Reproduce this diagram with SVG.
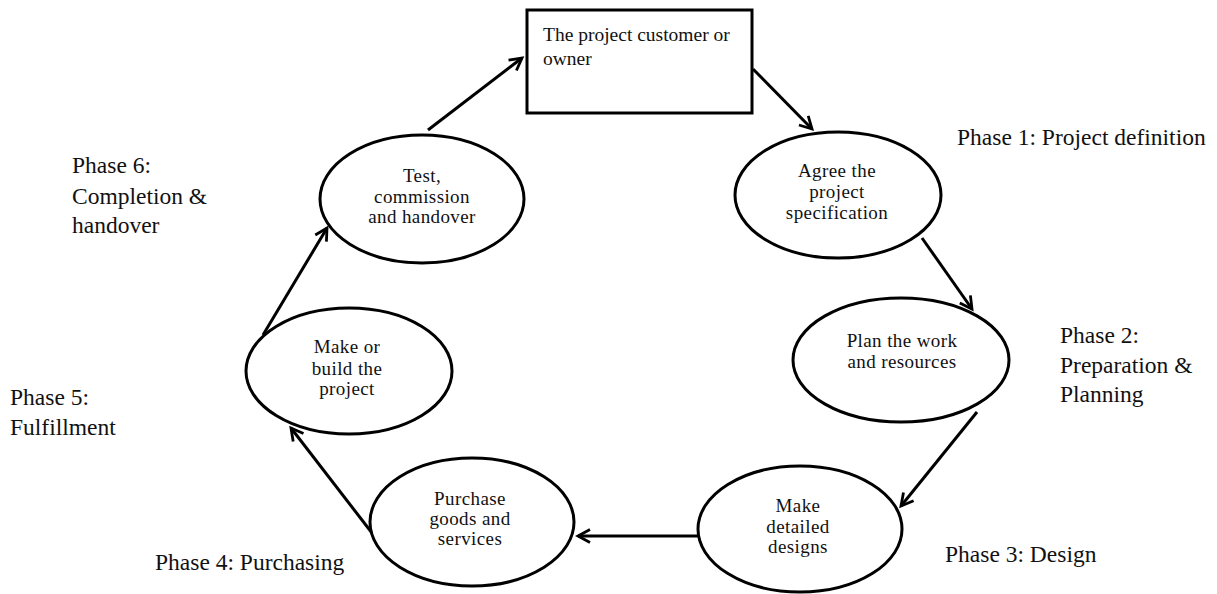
<svg xmlns="http://www.w3.org/2000/svg" width="1217" height="594" viewBox="0 0 1217 594">
  <style>
    .shape { fill: #fff; stroke: #000; stroke-width: 3; }
    .node { font-family: "Liberation Serif", "Times New Roman", serif; font-size: 19px; letter-spacing: 0.4px; fill: #111; text-anchor: middle; }
    .box { font-family: "Liberation Serif", "Times New Roman", serif; font-size: 19.5px; fill: #111; }
    .phase { font-family: "Liberation Serif", "Times New Roman", serif; font-size: 23.5px; fill: #111; }
    .conn { fill: none; stroke: #000; stroke-width: 3; marker-end: url(#arr); }
  </style>
  <defs>
    <marker id="arr" viewBox="-2 -2 18 18" refX="13" refY="7" markerWidth="18" markerHeight="18" markerUnits="userSpaceOnUse" orient="auto">
      <path d="M1,0.5 L13,7 L1,13.5" fill="none" stroke="#000" stroke-width="2.8" stroke-linejoin="miter"/>
    </marker>
  </defs>
  <rect width="1217" height="594" fill="#fff"/>

  <!-- connectors around the cycle -->
  <g id="connectors">
    <line class="conn" x1="428" y1="130" x2="522" y2="58"/>
    <line class="conn" x1="753" y1="69" x2="812" y2="129"/>
    <line class="conn" x1="922" y1="238" x2="972" y2="309"/>
    <line class="conn" x1="977" y1="412" x2="901" y2="506"/>
    <line class="conn" x1="698" y1="536" x2="578" y2="536"/>
    <line class="conn" x1="372" y1="533" x2="291" y2="428"/>
    <line class="conn" x1="263" y1="335" x2="327" y2="228"/>
  </g>

  <g id="owner">
    <rect class="shape" x="527" y="10" width="225" height="103"/>
    <text class="box" x="543" y="41">The project customer or</text>
    <text class="box" x="543" y="65">owner</text>
  </g>

  <g id="agree-spec">
    <ellipse class="shape" cx="838" cy="195" rx="103" ry="63"/>
    <text class="node" x="837" y="177">Agree the</text>
    <text class="node" x="837" y="198">project</text>
    <text class="node" x="837" y="219">specification</text>
  </g>

  <g id="plan-work">
    <ellipse class="shape" cx="901" cy="360" rx="108" ry="62"/>
    <text class="node" x="902" y="347">Plan the work</text>
    <text class="node" x="902" y="368">and resources</text>
  </g>

  <g id="detailed-designs">
    <ellipse class="shape" cx="800" cy="529" rx="102" ry="63"/>
    <text class="node" x="798" y="512">Make</text>
    <text class="node" x="798" y="533">detailed</text>
    <text class="node" x="798" y="553">designs</text>
  </g>

  <g id="purchase">
    <ellipse class="shape" cx="472" cy="522" rx="102" ry="64"/>
    <text class="node" x="470" y="505">Purchase</text>
    <text class="node" x="470" y="525">goods and</text>
    <text class="node" x="470" y="545">services</text>
  </g>

  <g id="make-build">
    <ellipse class="shape" cx="349" cy="371" rx="103" ry="63"/>
    <text class="node" x="347" y="353">Make or</text>
    <text class="node" x="347" y="375">build the</text>
    <text class="node" x="347" y="395">project</text>
  </g>

  <g id="test-handover">
    <ellipse class="shape" cx="422" cy="199" rx="102" ry="64"/>
    <text class="node" x="422" y="182">Test,</text>
    <text class="node" x="422" y="203">commission</text>
    <text class="node" x="422" y="223">and handover</text>
  </g>

  <!-- phase captions -->
  <g id="phase-labels">
    <text class="phase" x="957" y="145">Phase 1: Project definition</text>
    <text class="phase" x="1060" y="343">Phase 2:</text>
    <text class="phase" x="1060" y="373">Preparation &amp;</text>
    <text class="phase" x="1060" y="402">Planning</text>
    <text class="phase" x="945" y="562">Phase 3: Design</text>
    <text class="phase" x="155" y="570">Phase 4: Purchasing</text>
    <text class="phase" x="10" y="405">Phase 5:</text>
    <text class="phase" x="10" y="435">Fulfillment</text>
    <text class="phase" x="72" y="173">Phase 6:</text>
    <text class="phase" x="72" y="204">Completion &amp;</text>
    <text class="phase" x="72" y="233">handover</text>
  </g>
</svg>
